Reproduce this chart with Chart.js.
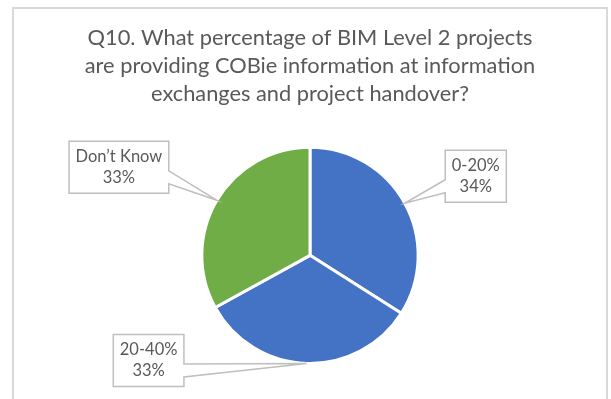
<!DOCTYPE html>
<html>
<head>
<meta charset="utf-8">
<script src="https://cdn.jsdelivr.net/npm/chart.js@4/dist/chart.umd.min.js"></script>
<style>
  html, body { margin: 0; padding: 0; background: #fff; }
  #wrap { width: 611px; height: 399px; }
</style>
</head>
<body>
<div id="wrap"><canvas id="pie" width="611" height="399"></canvas></div>
<script>
// survey answers and their share of responses (%)
const categories = ['0-20%', '20-40%', 'Don\u2019t Know'];
const shares = [34, 33, 33];
const sliceColours = ['#4472C4', '#4472C4', '#70AD47'];
const titleLines = [
  'Q10. What percentage of BIM Level 2 projects',
  'are providing COBie information at information',
  'exchanges and project handover?'
];

// light grey border round the whole chart
const framePlugin = {
  id: 'frame',
  beforeDraw(chart) {
    const ctx = chart.ctx;
    ctx.save();
    ctx.fillStyle = '#fff';
    ctx.fillRect(0, 0, chart.width, chart.height);
    ctx.strokeStyle = '#d9d9d9';
    ctx.lineWidth = 2;
    ctx.strokeRect(13, 8, 594, 400);
    ctx.restore();
  }
};

// boxed data labels with a wedge pointing at the middle of each slice
const calloutPlugin = {
  id: 'callouts',
  afterDatasetsDraw(chart, args, opts) {
    const ctx = chart.ctx;
    const meta = chart.getDatasetMeta(0);
    const values = chart.data.datasets[0].data;
    ctx.save();
    ctx.font = opts.font;
    ctx.textAlign = 'center';
    ctx.textBaseline = 'middle';
    meta.data.forEach((arc, i) => {
      const p = arc.getProps(['x', 'y', 'startAngle', 'endAngle', 'outerRadius'], true);
      const mid = (p.startAngle + p.endAngle) / 2;
      const tipX = p.x + Math.cos(mid) * p.outerRadius;
      const tipY = p.y + Math.sin(mid) * p.outerRadius;
      const lines = [chart.data.labels[i], values[i] + '%'];
      const w = Math.max(...lines.map(t => ctx.measureText(t).width)) + opts.padX * 2;
      const h = lines.length * opts.lineHeight + opts.padY * 2;
      const cx = tipX + opts.offsets[i][0];
      const cy = tipY + opts.offsets[i][1];
      const left = cx - w / 2, right = cx + w / 2;
      const top = cy - h / 2, bottom = cy + h / 2;
      const b0 = cy + opts.wedgeShift - opts.wedgeHalf;
      const b1 = cy + opts.wedgeShift + opts.wedgeHalf;

      ctx.beginPath();
      if (tipX > right) {
        ctx.moveTo(left, top);
        ctx.lineTo(right, top);
        ctx.lineTo(right, b0);
        ctx.lineTo(tipX, tipY);
        ctx.lineTo(right, b1);
        ctx.lineTo(right, bottom);
        ctx.lineTo(left, bottom);
      } else {
        ctx.moveTo(right, top);
        ctx.lineTo(right, bottom);
        ctx.lineTo(left, bottom);
        ctx.lineTo(left, b1);
        ctx.lineTo(tipX, tipY);
        ctx.lineTo(left, b0);
        ctx.lineTo(left, top);
      }
      ctx.closePath();
      ctx.fillStyle = '#fff';
      ctx.fill();
      ctx.strokeStyle = '#bfbfbf';
      ctx.lineWidth = 1.5;
      ctx.stroke();

      ctx.fillStyle = '#595959';
      const firstY = cy - (lines.length - 1) * opts.lineHeight / 2;
      lines.forEach((t, j) => ctx.fillText(t, cx, firstY + j * opts.lineHeight));
    });
    ctx.restore();
  }
};

new Chart(document.getElementById('pie'), {
  type: 'pie',
  data: {
    labels: categories,
    datasets: [{
      data: shares,
      backgroundColor: sliceColours,
      borderColor: '#fff',
      borderWidth: 3
    }]
  },
  options: {
    responsive: false,
    animation: false,
    layout: { padding: { left: 9, right: 0, top: 0, bottom: 34 } },
    plugins: {
      legend: { display: false },
      tooltip: { enabled: false },
      title: {
        display: true,
        text: titleLines,
        color: '#595959',
        font: { family: 'Lato', size: 21.8, weight: 'normal', lineHeight: 1.28 },
        padding: { top: 24, bottom: 38 }
      },
      callouts: {
        font: '16.5px Lato',
        lineHeight: 21,
        padX: 6.5,
        padY: 5,
        wedgeShift: 10,
        wedgeHalf: 6.5,
        offsets: [[71, -27], [-158, -3], [-98, -33]]
      }
    }
  },
  plugins: [framePlugin, calloutPlugin]
});
</script>
</body>
</html>
